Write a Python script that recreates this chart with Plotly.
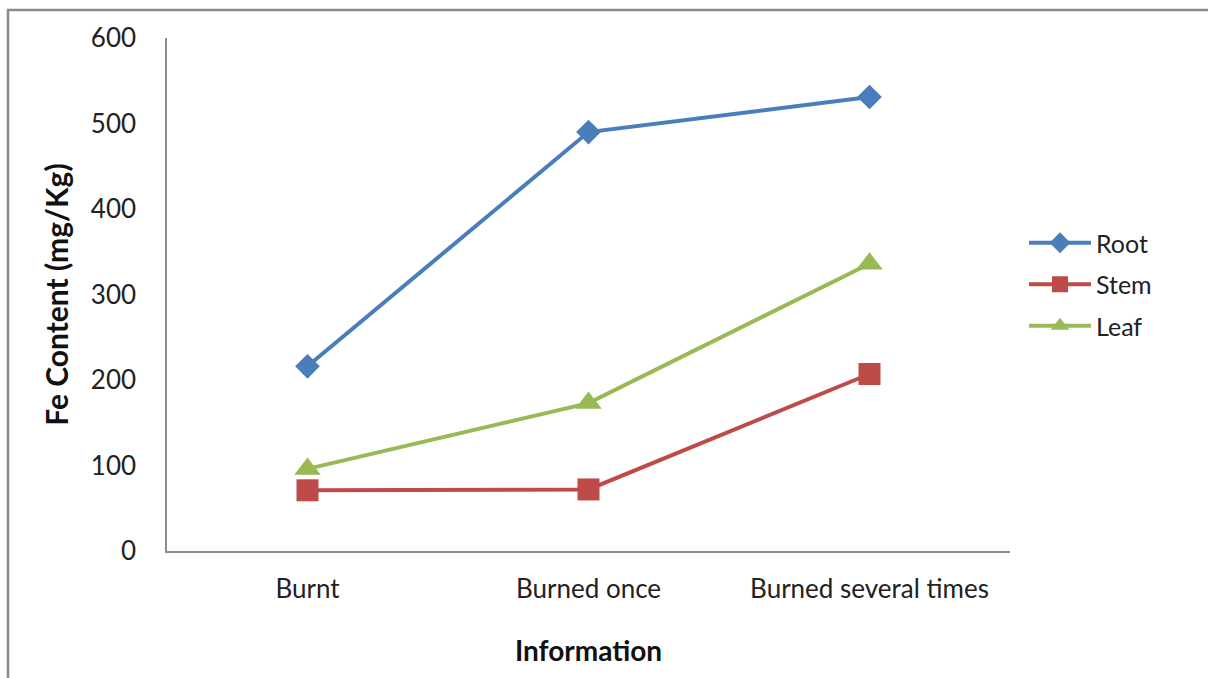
import plotly.graph_objects as go

# Iron content by plant part across burning treatments
categories = ["Burnt", "Burned once", "Burned several times"]
root = [216, 490, 531]
stem = [71, 72, 207]
leaf = [96, 173, 336]
y_ticks = [0, 100, 200, 300, 400, 500, 600]

FONT = "Lato"

series = [
    ("Root", root, "#4a7ebb", "diamond", 19),
    ("Stem", stem, "#be4b48", "square", 22),
    ("Leaf", leaf, "#98b954", "triangle-up", 23),
]

fig = go.Figure()
for name, vals, color, symbol, size in series:
    fig.add_trace(go.Scatter(
        x=categories, y=vals, name=name, mode="lines+markers",
        legendgroup=name,
        line=dict(color=color, width=4),
        marker=dict(symbol=symbol, size=size, color=color),
    ))

W, H = 1208, 678
L, R, T, B = 167, 198, 38, 127
pw, ph = W - L - R, H - T - B

def px_x(x):
    return (x - L) / pw

def px_y(y):
    return (H - B - y) / ph

fig.update_layout(
    width=W, height=H,
    margin=dict(l=L, r=R, t=T, b=B, pad=0),
    plot_bgcolor="white", paper_bgcolor="white",
    font=dict(family=FONT, color="#222222", size=25),
    xaxis=dict(
        type="category", range=[-0.5, 2.5],
        showline=True, linecolor="#8c8c8c", linewidth=1.5,
        showgrid=False, ticks="", zeroline=False,
        ticklabelstandoff=14,
        tickfont=dict(family=FONT, size=26, color="#222222"),
        title=dict(text="<b>Information</b>", font=dict(family=FONT, size=28, color="#111111"), standoff=38),
    ),
    yaxis=dict(
        range=[0, 600], tickvals=y_ticks,
        showline=True, linecolor="#8c8c8c", linewidth=1.5,
        showgrid=False, ticks="", zeroline=False,
        ticklabelstandoff=24,
        tickfont=dict(family=FONT, size=26, color="#222222"),
        title=dict(text="<b>Fe Content (mg/Kg)</b>", font=dict(family=FONT, size=30, color="#111111"), standoff=13),
    ),
    legend=dict(
        x=px_x(1024), y=px_y(220), xanchor="left", yanchor="top",
        font=dict(family=FONT, size=25, color="#222222"),
        bgcolor="rgba(0,0,0,0)", tracegroupgap=6, itemwidth=62,
    ),
    shapes=[dict(
        type="rect", xref="paper", yref="paper",
        x0=px_x(8), x1=px_x(1220), y0=px_y(10), y1=px_y(700),
        line=dict(color="#8a8a8a", width=2.5), fillcolor="rgba(0,0,0,0)", layer="below",
    )],
)

fig.write_html("out.html")
